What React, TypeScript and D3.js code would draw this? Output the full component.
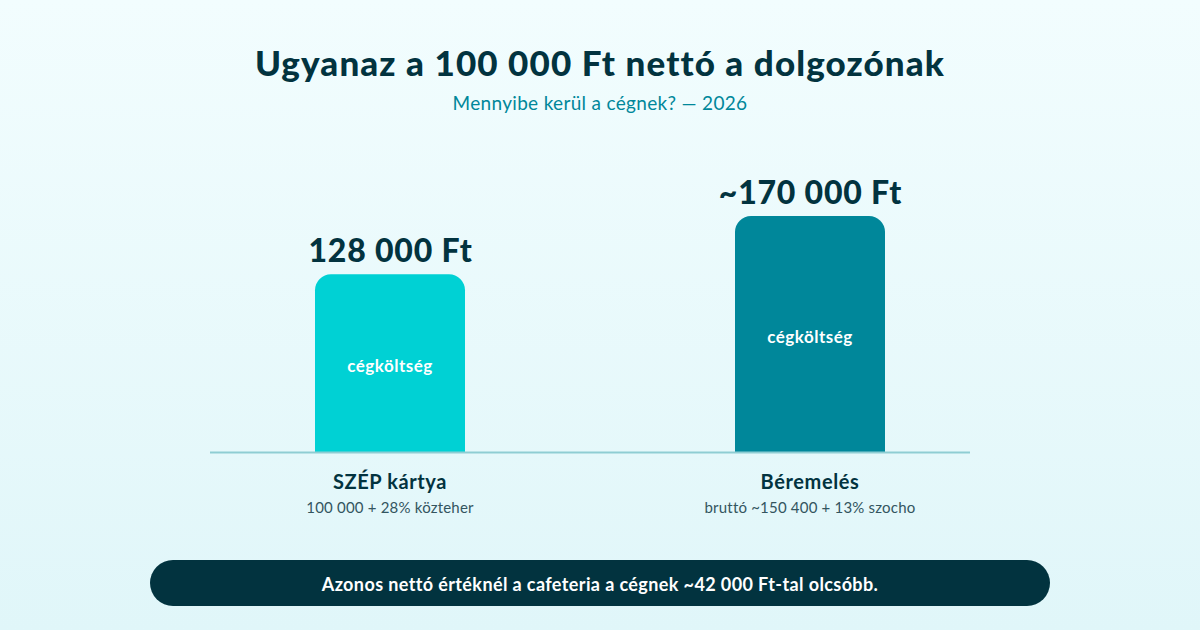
import React from "react";
import * as d3 from "d3";

const categories = ["SZÉP kártya", "Béremelés"];
const subLabels = ["100 000 + 28% közteher", "bruttó ~150 400 + 13% szocho"];
const values = [128000, 170000];
const valueLabels = ["128 000 Ft", "~170 000 Ft"];
const barColors = ["#00d1d4", "#00879a"];
const innerLabel = "cégköltség";
const title = "Ugyanaz a 100 000 Ft nettó a dolgozónak";
const subtitle = "Mennyibe kerül a cégnek? — 2026";
const footer = "Azonos nettó értéknél a cafeteria a cégnek ~42 000 Ft-tal olcsóbb.";

const W = 1200, H = 630;
const baseY = 452;
const centers = [390, 810];
const barW = 150;
const FONT = "Lato, 'Open Sans', sans-serif";
const DARK = "#02333f";

export default function App() {
  const y = d3.scaleLinear().domain([0, 170000]).range([baseY, 216]);
  const r = 16;
  return (
    <svg width={W} height={H} viewBox={`0 0 ${W} ${H}`} style={{ position: "fixed", left: 0, top: 0, display: "block" }} fontFamily={FONT}>
      <defs>
        <linearGradient id="bg" x1="0" y1="0" x2="0" y2="1">
          <stop offset="0" stopColor="#f2fdfe" />
          <stop offset="1" stopColor="#e0f6f9" />
        </linearGradient>
      </defs>
      <rect width={W} height={H} fill="url(#bg)" />
      <text x={600} y={76} textAnchor="middle" fontSize={35} fontWeight={900} letterSpacing={1.1} fill={DARK}>{title}</text>
      <text x={600} y={110} textAnchor="middle" fontSize={19} letterSpacing={0.32} fill="#00879a">{subtitle}</text>
      {values.map((v, i) => {
        const x0 = centers[i] - barW / 2, x1 = centers[i] + barW / 2, top = y(v);
        const path = d3.path();
        path.moveTo(x0, baseY);
        path.arcTo(x0, top, x0 + r, top, r);
        path.arcTo(x1, top, x1, top + r, r);
        path.lineTo(x1, baseY);
        path.closePath();
        return (
          <g key={categories[i]}>
            <path d={path.toString()} fill={barColors[i]} />
            <text x={centers[i] + 0.5} y={top - 12} textAnchor="middle" fontSize={32} fontWeight={900} letterSpacing={0.8} fill={DARK}>{valueLabels[i]}</text>
            <text x={centers[i]} y={(top + baseY) / 2 + 9} textAnchor="middle" fontSize={17} fontWeight={700} letterSpacing={0.5} fill="#ffffff">{innerLabel}</text>
            <text x={centers[i]} y={489} textAnchor="middle" fontSize={20} fontWeight={700} letterSpacing={0.6} fill={DARK}>{categories[i]}</text>
            <text x={centers[i]} y={513} textAnchor="middle" fontSize={15} letterSpacing={0.2} fill="#33555f">{subLabels[i]}</text>
          </g>
        );
      })}
      <line x1={210} x2={970} y1={452.5} y2={452.5} stroke="#8fcdd3" strokeWidth={2} />
      <rect x={150} y={560} width={900} height={46} rx={23} fill={DARK} />
      <text x={600} y={591} textAnchor="middle" fontSize={18} fontWeight={700} letterSpacing={0.39} fill="#ffffff">{footer}</text>
    </svg>
  );
}
